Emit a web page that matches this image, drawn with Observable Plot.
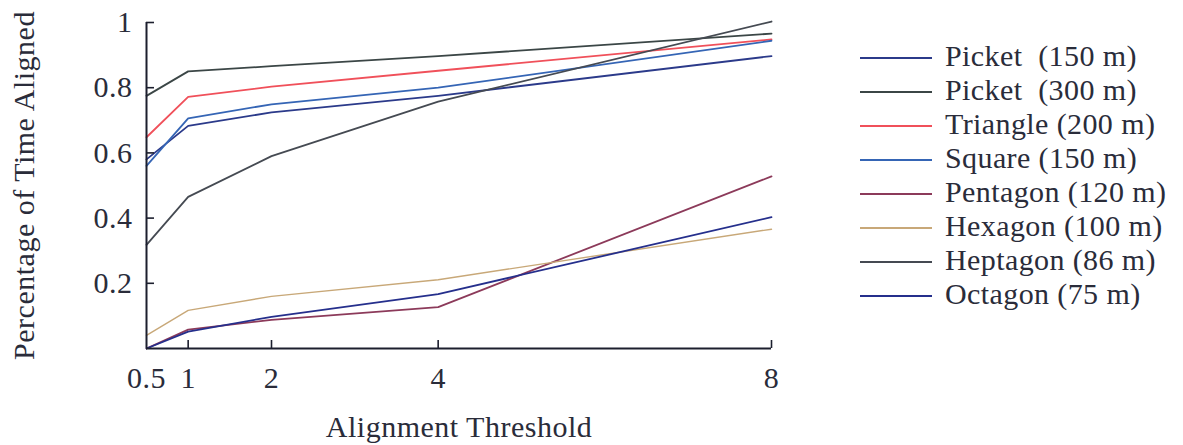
<!DOCTYPE html>
<html><head><meta charset="utf-8">
<script src="https://cdn.jsdelivr.net/npm/d3@7"></script>
<script src="https://cdn.jsdelivr.net/npm/@observablehq/plot@0.6"></script>
<style>
body{margin:0;background:#fff}
#wrap{position:relative;width:1183px;height:445px;color:#2a2c3a}
#wrap svg, #wrap svg text{font-family:'Liberation Serif';letter-spacing:0.5px}
#legend{position:absolute;left:860px;top:39px;font-family:'Liberation Serif'}
.row{display:flex;align-items:center;height:34.05px;font-size:30px;line-height:34px;white-space:pre;letter-spacing:0.4px;font-family:'Liberation Serif'}
.sw{width:72px;height:2px;margin-right:13px;position:relative;top:2px}
</style></head>
<body><div id="wrap"><div id="legend"></div></div>
<script>
const thresholds = [0.5, 1, 2, 4, 8];
const xTicks = [0.5, 1, 2, 4, 8];
const xTickMarks = [1, 2, 4, 8];
const yTicks = [0.2, 0.4, 0.6, 0.8, 1];
const seriesNames = ["Picket  (150 m)", "Picket  (300 m)", "Triangle (200 m)", "Square (150 m)", "Pentagon (120 m)", "Hexagon (100 m)", "Heptagon (86 m)", "Octagon (75 m)"];
const seriesColors = ["#2b3a8a", "#3b4646", "#f0505a", "#3565b5", "#8c3a5a", "#c8a878", "#454a52", "#252f8c"];
const picket150 = [0.58, 0.683, 0.724, 0.775, 0.897];
const picket300 = [0.775, 0.85, 0.866, 0.897, 0.966];
const triangle  = [0.648, 0.772, 0.803, 0.852, 0.948];
const square    = [0.56, 0.706, 0.749, 0.80, 0.944];
const pentagon  = [0.0, 0.058, 0.088, 0.127, 0.528];
const hexagon   = [0.04, 0.117, 0.16, 0.211, 0.366];
const heptagon  = [0.318, 0.465, 0.59, 0.757, 1.003];
const octagon   = [0.0, 0.052, 0.097, 0.167, 0.403];
const seriesValues = [picket150, picket300, triangle, square, pentagon, hexagon, heptagon, octagon];

const rows = [];
seriesNames.forEach((s, i) => thresholds.forEach((t, j) => rows.push({s, t, v: seriesValues[i][j]})));

const axisColor = "#1c1f2e";
const chart = Plot.plot({
  width: 1183, height: 445,
  marginLeft: 146, marginRight: 412, marginTop: 22, marginBottom: 97,
  style: "font-family: 'Liberation Serif'; font-size: 30px; color: #2a2c3a; background: white; overflow: visible;",
  x: {domain: [0.5, 8]},
  y: {domain: [0, 1]},
  color: {domain: seriesNames, range: seriesColors},
  marks: [
    Plot.line(rows, {x: "t", y: "v", z: "s", stroke: "s", strokeWidth: d => d.s.startsWith("Hexagon") ? 1.4 : 1.8}),
    Plot.ruleY([0], {stroke: axisColor, strokeWidth: 2}),
    Plot.ruleX([0.5], {stroke: axisColor, strokeWidth: 2}),
    Plot.axisX(xTicks, {tickSize: 0, tickPadding: 18, tickFormat: d => String(d), label: null}),
    Plot.axisY(yTicks, {tickSize: 0, tickPadding: 14, tickFormat: d => String(d), label: null}),
    Plot.tickX(xTickMarks, {x: d => d, insetTop: 326 - 8, stroke: axisColor, strokeWidth: 1.6}),
    Plot.tickY(yTicks, {y: d => d, insetRight: 625 - 8, stroke: axisColor, strokeWidth: 1.6}),
    Plot.text(["Alignment Threshold"], {frameAnchor: "bottom", dy: 88, lineAnchor: "bottom", fontSize: 30}),
    Plot.text(["Percentage of Time Aligned"], {frameAnchor: "left", dx: -113, rotate: -90, lineAnchor: "bottom", textAnchor: "middle", fontSize: 30})
  ]
});
document.getElementById("wrap").prepend(chart);

const legend = document.getElementById("legend");
seriesNames.forEach((s, i) => {
  const row = document.createElement("div");
  row.className = "row";
  const sw = document.createElement("span");
  sw.className = "sw";
  sw.style.background = seriesColors[i];
  const tx = document.createElement("span");
  tx.textContent = s;
  row.append(sw, tx);
  legend.append(row);
});
</script>
</body></html>
